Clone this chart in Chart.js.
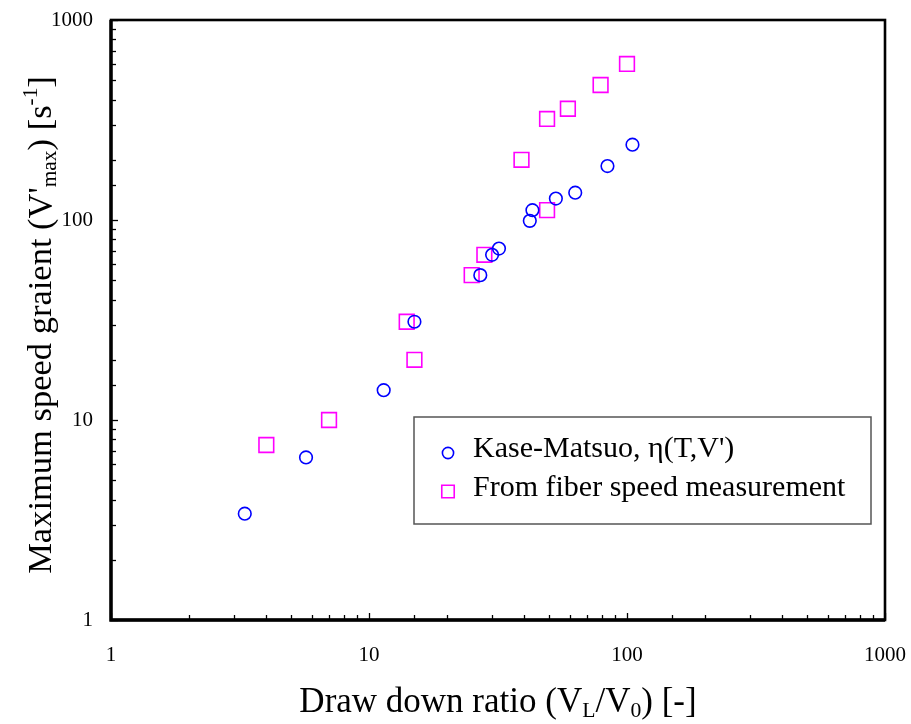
<!DOCTYPE html>
<html>
<head>
<meta charset="utf-8">
<script src="https://cdn.jsdelivr.net/npm/chart.js@4/dist/chart.umd.min.js"></script>
<style>
  html, body { margin: 0; padding: 0; background: #fff; }
  canvas { display: block; }
</style>
</head>
<body>
<canvas id="chart" width="911" height="724"></canvas>
<script>
// Kase-Matsuo model, eta(T, V')
const kaseRatio = [3.3, 5.7, 11.4, 15.0, 27.0, 30.0, 31.9, 42.0, 43.0, 53.0, 63.0, 84.0, 105.0];
const kaseGrad  = [3.4, 6.5, 14.1, 31.0, 53.0, 67.0, 72.0, 99.0, 112.0, 128.0, 137.0, 186.0, 238.0];

// Gradient derived from measured fiber speed
const fiberRatio = [4.0, 7.0, 14.0, 15.0, 25.0, 28.0, 39.0, 49.0, 49.0, 59.0, 79.0, 100.0];
const fiberGrad  = [7.5, 10.0, 31.0, 20.0, 53.0, 67.0, 200.0, 112.0, 320.0, 360.0, 473.0, 603.0];

const seriesNames = ["Kase-Matsuo, \u03b7(T,V')", "From fiber speed measurement"];
const axisMin = 1;
const axisMax = 1000;

const SERIF = '"Liberation Serif", "DejaVu Serif", serif';

const toPoints = (xs, ys) => xs.map((v, i) => ({ x: v, y: ys[i] }));
const isDecade = v => Math.abs(Math.log10(v) - Math.round(Math.log10(v))) < 1e-9;

// Draw a run of text pieces with sub/superscripts; (cx, cy) is the centre of the run
// along its direction, with the baseline placed 0.33em below cy.
function richText(ctx, parts, cx, cy, size, rotate) {
  ctx.save();
  ctx.translate(cx, cy);
  if (rotate) ctx.rotate(-Math.PI / 2);
  ctx.textBaseline = 'alphabetic';
  ctx.textAlign = 'left';
  ctx.fillStyle = '#000';
  const measured = parts.map(p => {
    const s = p.mode ? size * 0.62 : size;
    ctx.font = s + 'px ' + SERIF;
    return { ...p, s, w: ctx.measureText(p.t).width };
  });
  const total = measured.reduce((a, p) => a + p.w, 0);
  let x = -total / 2;
  const base = size * 0.33;
  measured.forEach(p => {
    ctx.font = p.s + 'px ' + SERIF;
    let dy = 0;
    if (p.mode === 'sub') dy = size * 0.15;
    if (p.mode === 'sup') dy = -size * 0.40;
    ctx.fillText(p.t, x, base + dy);
    x += p.w;
  });
  ctx.restore();
}

const decorations = {
  id: 'decorations',
  afterDatasetsDraw(chart) {
    const { ctx, chartArea: a, scales: { x, y } } = chart;
    ctx.save();
    // inward tick marks on the bottom and left axes
    ctx.strokeStyle = '#000';
    ctx.lineWidth = 1.3;
    x.ticks.forEach(t => {
      const px = Math.round(x.getPixelForValue(t.value)) + 0.5;
      const len = isDecade(t.value) ? 7 : 5;
      ctx.beginPath(); ctx.moveTo(px, a.bottom); ctx.lineTo(px, a.bottom - len); ctx.stroke();
    });
    y.ticks.forEach(t => {
      const py = Math.round(y.getPixelForValue(t.value)) + 0.5;
      const len = isDecade(t.value) ? 7 : 5;
      ctx.beginPath(); ctx.moveTo(a.left, py); ctx.lineTo(a.left + len, py); ctx.stroke();
    });
    // frame
    ctx.lineWidth = 2.6;
    ctx.strokeRect(a.left, a.top, a.right - a.left, a.bottom - a.top);
    ctx.lineWidth = 3.4;
    ctx.beginPath();
    ctx.moveTo(a.left, a.top); ctx.lineTo(a.left, a.bottom); ctx.lineTo(a.right, a.bottom);
    ctx.stroke();
    ctx.restore();
  },
  afterDraw(chart) {
    const { ctx, chartArea: a } = chart;
    // legend box
    const bx = 414, by = 417, bw = 457, bh = 107;
    ctx.save();
    ctx.fillStyle = '#fff';
    ctx.fillRect(bx, by, bw, bh);
    ctx.strokeStyle = '#555';
    ctx.lineWidth = 1.5;
    ctx.strokeRect(bx, by, bw, bh);
    chart.data.datasets.forEach((ds, i) => {
      const cy = by + 36 + i * 38.5;
      ctx.strokeStyle = ds.borderColor;
      ctx.fillStyle = 'rgba(0,0,0,0)';
      ctx.lineWidth = ds.borderWidth;
      Chart.helpers.drawPoint(ctx, { pointStyle: ds.pointStyle, radius: ds.legendRadius, borderWidth: ds.borderWidth }, bx + 34, cy);
      ctx.fillStyle = '#000';
      ctx.font = '30px ' + SERIF;
      ctx.textBaseline = 'alphabetic';
      ctx.textAlign = 'left';
      ctx.fillText(ds.label, bx + 59, cy + 4);
    });
    ctx.restore();

    // axis titles
    richText(ctx, [
      { t: 'Draw down ratio (V' }, { t: 'L', mode: 'sub' }, { t: '/V' }, { t: '0', mode: 'sub' }, { t: ') [-]' }
    ], (a.left + a.right) / 2, 700.5, 35, false);
    richText(ctx, [
      { t: "Maximum speed graient (V'" }, { t: 'max', mode: 'sub' }, { t: ') [s' }, { t: '-1', mode: 'sup' }, { t: ']' }
    ], 39.5, 325, 34.5, true);
  }
};

const tickLabel = v => isDecade(v) ? String(Math.round(v)) : '';

new Chart(document.getElementById('chart'), {
  type: 'scatter',
  data: {
    datasets: [
      {
        label: seriesNames[0],
        data: toPoints(kaseRatio, kaseGrad),
        pointStyle: 'circle',
        pointRadius: 6.3,
        legendRadius: 5.6,
        borderColor: '#0000ff',
        backgroundColor: 'rgba(0,0,0,0)',
        borderWidth: 1.6,
        order: 1
      },
      {
        label: seriesNames[1],
        data: toPoints(fiberRatio, fiberGrad),
        pointStyle: 'rect',
        pointRadius: 10.4,
        legendRadius: 8.8,
        borderColor: '#ff00ff',
        backgroundColor: 'rgba(0,0,0,0)',
        borderWidth: 1.6,
        order: 2
      }
    ]
  },
  options: {
    responsive: false,
    animation: false,
    events: [],
    layout: { padding: { top: 20, right: 26, left: 0, bottom: 0 } },
    plugins: { legend: { display: false }, tooltip: { enabled: false } },
    scales: {
      x: {
        type: 'logarithmic',
        min: axisMin, max: axisMax,
        afterFit(s) { s.height = 104; s.paddingLeft = 0; s.paddingRight = 0; },
        grid: { display: false, drawTicks: false },
        border: { display: false },
        ticks: {
          autoSkip: false, maxRotation: 0, padding: 23,
          color: '#000', font: { family: SERIF, size: 21 },
          callback: tickLabel
        }
      },
      y: {
        type: 'logarithmic',
        min: axisMin, max: axisMax,
        afterFit(s) { s.width = 111; s.paddingTop = 0; s.paddingBottom = 0; },
        grid: { display: false, drawTicks: false },
        border: { display: false },
        ticks: {
          autoSkip: false, padding: 18,
          color: '#000', font: { family: SERIF, size: 21 },
          callback: tickLabel
        }
      }
    }
  },
  plugins: [decorations]
});
</script>
</body>
</html>
